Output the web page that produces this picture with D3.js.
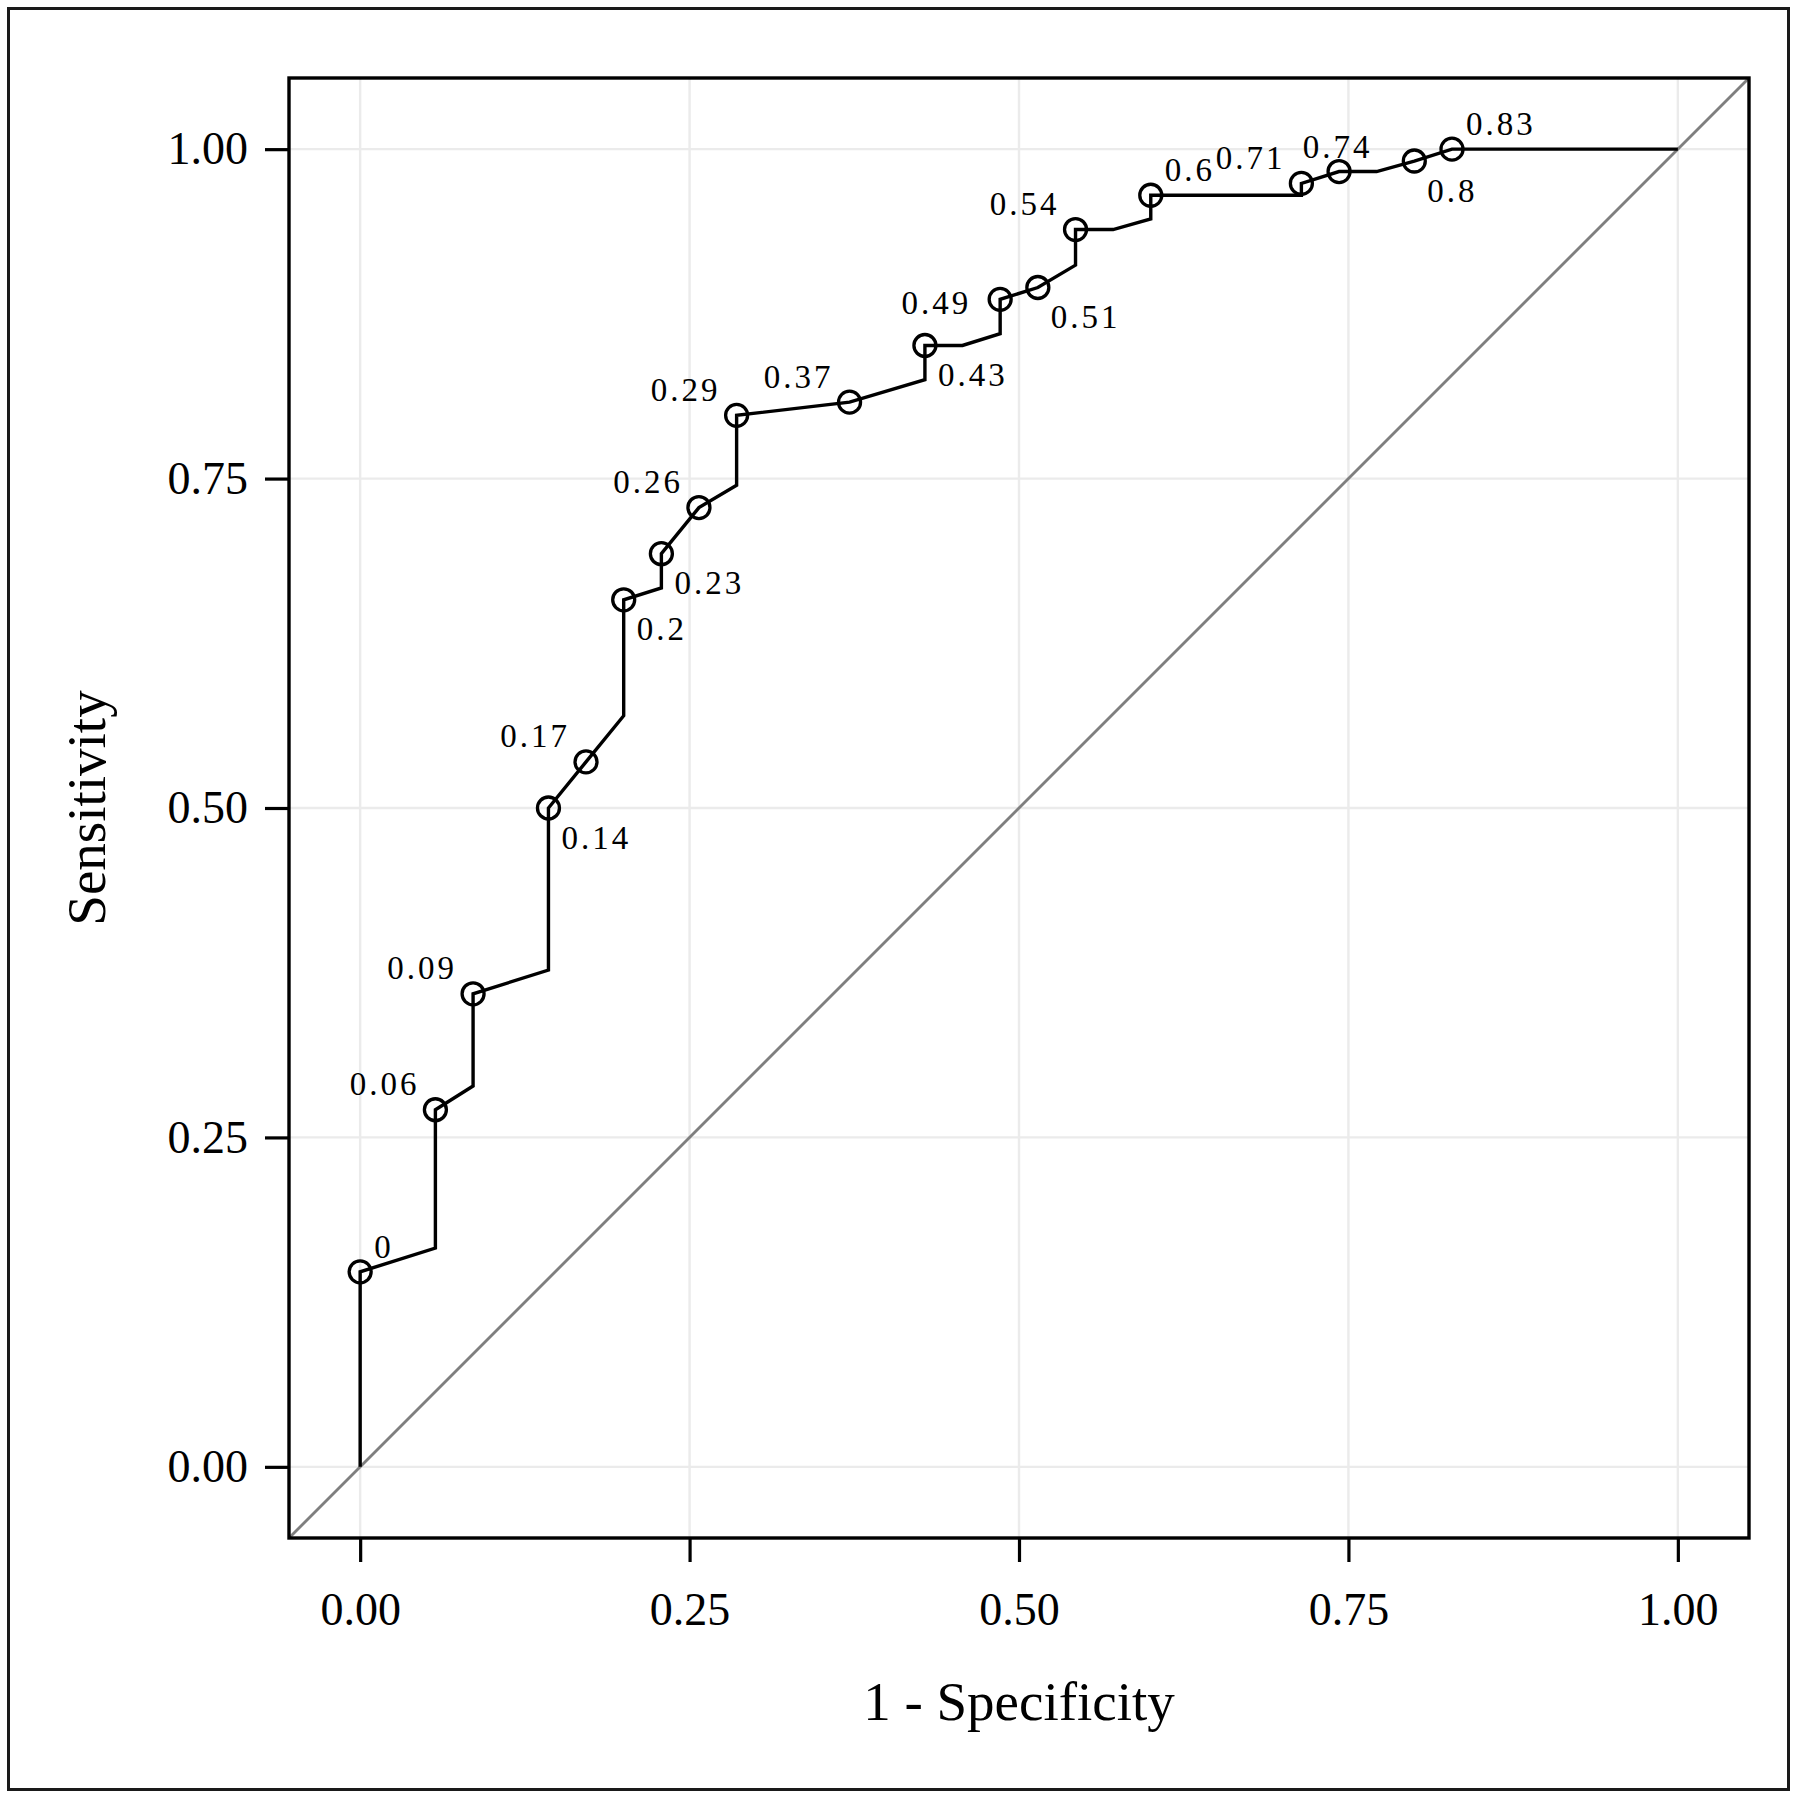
<!DOCTYPE html>
<html>
<head>
<meta charset="utf-8">
<script src="https://cdn.jsdelivr.net/npm/d3@7"></script>
<style>
  html, body { margin: 0; padding: 0; background: #fff; }
  svg { display: block; }
</style>
</head>
<body>
<svg id="chart" width="1797" height="1800"></svg>
<script>
// ---- data ----
// ROC path vertices (1 - specificity, sensitivity)
const pathFpr = [0, 0, 0.0571, 0.0571, 0.0857, 0.0857, 0.1429, 0.1429, 0.1714, 0.2000, 0.2000, 0.2286, 0.2286, 0.2571, 0.2857, 0.2857, 0.3714, 0.4286, 0.4286, 0.4571, 0.4857, 0.4857, 0.5143, 0.5429, 0.5429, 0.5714, 0.6000, 0.6000, 0.7143, 0.7143, 0.7429, 0.7714, 0.8000, 0.8286, 1];
const pathTpr = [0, 0.148, 0.166, 0.271, 0.289, 0.359, 0.377, 0.500, 0.535, 0.570, 0.658, 0.667, 0.693, 0.728, 0.745, 0.798, 0.808, 0.825, 0.851, 0.851, 0.860, 0.886, 0.895, 0.912, 0.939, 0.939, 0.947, 0.965, 0.965, 0.974, 0.983, 0.983, 0.991, 1.000, 1];

// labelled cutoff points
const cutLabels = ["0", "0.06", "0.09", "0.14", "0.17", "0.2", "0.23", "0.26", "0.29", "0.37", "0.43", "0.49", "0.51", "0.54", "0.6", "0.71", "0.74", "0.8", "0.83"];
const cutFpr = [0, 0.0571, 0.0857, 0.1429, 0.1714, 0.2000, 0.2286, 0.2571, 0.2857, 0.3714, 0.4286, 0.4857, 0.5143, 0.5429, 0.6000, 0.7143, 0.7429, 0.8000, 0.8286];
const cutTpr = [0.148, 0.271, 0.359, 0.500, 0.535, 0.658, 0.693, 0.728, 0.798, 0.808, 0.851, 0.886, 0.895, 0.939, 0.965, 0.974, 0.983, 0.991, 1.000];
// label side relative to point: ul = upper-left, lr = lower-right, ur = upper-right, l = left, u = above
const cutSide = ["ur", "ul", "ul", "lr", "ul", "lr", "lr", "ul", "ul", "ul", "lr", "l", "lr", "ul", "ur", "ul", "u", "lr", "ur"];

const xTicks = [0, 0.25, 0.5, 0.75, 1];
const yTicks = [0, 0.25, 0.5, 0.75, 1];
const xTickLabels = ["0.00", "0.25", "0.50", "0.75", "1.00"];
const yTickLabels = ["0.00", "0.25", "0.50", "0.75", "1.00"];
const xTitle = "1 - Specificity";
const yTitle = "Sensitivity";

// ---- layout ----
const W = 1797, H = 1800;
const panel = { left: 289, top: 78, right: 1749, bottom: 1538 };
const FONT = "'Liberation Serif', 'Times New Roman', serif";
const LS = 3; // label letter spacing

const svg = d3.select("#chart");

const x = d3.scaleLinear().domain([-0.054, 1.054]).range([panel.left, panel.right]);
const y = d3.scaleLinear().domain([-0.054, 1.054]).range([panel.bottom, panel.top]);

// outer border
svg.append("rect")
  .attr("x", 8.5).attr("y", 8.5).attr("width", 1780).attr("height", 1781)
  .attr("fill", "#fff").attr("stroke", "#1a1a1a").attr("stroke-width", 3);

// gridlines
const grid = svg.append("g");
grid.selectAll("line.vx").data(xTicks).join("line")
  .attr("x1", d => x(d)).attr("x2", d => x(d))
  .attr("y1", panel.top).attr("y2", panel.bottom)
  .attr("stroke", "#EBEBEB").attr("stroke-width", 2.4);
grid.selectAll("line.hy").data(yTicks).join("line")
  .attr("y1", d => y(d)).attr("y2", d => y(d))
  .attr("x1", panel.left).attr("x2", panel.right)
  .attr("stroke", "#EBEBEB").attr("stroke-width", 2.4);

// clip to panel
svg.append("clipPath").attr("id", "clip")
  .append("rect").attr("x", panel.left).attr("y", panel.top)
  .attr("width", panel.right - panel.left).attr("height", panel.bottom - panel.top);

const plot = svg.append("g").attr("clip-path", "url(#clip)");

// diagonal reference line
plot.append("line")
  .attr("x1", x(-0.054)).attr("y1", y(-0.054))
  .attr("x2", x(1.054)).attr("y2", y(1.054))
  .attr("stroke", "#7F7F7F").attr("stroke-width", 2.8);

// ROC path
const pts = pathFpr.map((f, i) => [f, pathTpr[i]]);
plot.append("path")
  .attr("d", d3.line().x(d => x(d[0])).y(d => y(d[1]))(pts))
  .attr("fill", "none").attr("stroke", "#000").attr("stroke-width", 3.4)
  .attr("stroke-linejoin", "miter");

// cutoff circles
const cuts = cutLabels.map((l, i) => ({ label: l, f: cutFpr[i], t: cutTpr[i], side: cutSide[i] }));
plot.selectAll("circle.cut").data(cuts).join("circle")
  .attr("cx", d => x(d.f)).attr("cy", d => y(d.t))
  .attr("r", 11).attr("fill", "none").attr("stroke", "#000").attr("stroke-width", 3.3);

// cutoff labels
const sideOffsets = {
  ul: { dx: -19 + LS, dy: -14.5, anchor: "end" },
  lr: { dx: 13, dy: 40.5, anchor: "start" },
  ur: { dx: 14, dy: -14, anchor: "start" },
  l:  { dx: -32 + LS, dy: 14.5, anchor: "end" },
  u:  { dx: -3 + LS / 2, dy: -13.5, anchor: "middle" }
};
svg.append("g").selectAll("text").data(cuts).join("text")
  .attr("x", d => x(d.f) + sideOffsets[d.side].dx)
  .attr("y", d => y(d.t) + sideOffsets[d.side].dy)
  .attr("text-anchor", d => sideOffsets[d.side].anchor)
  .attr("font-family", FONT).attr("font-size", 33).attr("fill", "#000")
  .attr("letter-spacing", LS)
  .text(d => d.label);

// panel border
svg.append("rect")
  .attr("x", panel.left).attr("y", panel.top)
  .attr("width", panel.right - panel.left).attr("height", panel.bottom - panel.top)
  .attr("fill", "none").attr("stroke", "#000").attr("stroke-width", 3.4);

// axes
const xAxis = d3.axisBottom(x).tickValues(xTicks).tickSize(24).tickPadding(30)
  .tickFormat((d, i) => xTickLabels[i]);
const gx = svg.append("g").attr("transform", `translate(0,${panel.bottom})`).call(xAxis);
gx.select(".domain").remove();
gx.selectAll(".tick line").attr("stroke", "#000").attr("stroke-width", 3.2);
gx.selectAll(".tick text").attr("font-family", FONT).attr("font-size", 46).attr("fill", "#000");

const yAxis = d3.axisLeft(y).tickValues(yTicks).tickSize(24).tickPadding(17)
  .tickFormat((d, i) => yTickLabels[i]);
const gy = svg.append("g").attr("transform", `translate(${panel.left},0)`).call(yAxis);
gy.select(".domain").remove();
gy.selectAll(".tick line").attr("stroke", "#000").attr("stroke-width", 3.2);
gy.selectAll(".tick text").attr("font-family", FONT).attr("font-size", 46).attr("fill", "#000");

// axis titles
svg.append("text")
  .attr("x", (panel.left + panel.right) / 2).attr("y", 1720)
  .attr("text-anchor", "middle")
  .attr("font-family", FONT).attr("font-size", 55).attr("fill", "#000")
  .text(xTitle);

svg.append("text")
  .attr("transform", `translate(105,${(panel.top + panel.bottom) / 2}) rotate(-90)`)
  .attr("text-anchor", "middle")
  .attr("font-family", FONT).attr("font-size", 55).attr("fill", "#000")
  .text(yTitle);
</script>
</body>
</html>
